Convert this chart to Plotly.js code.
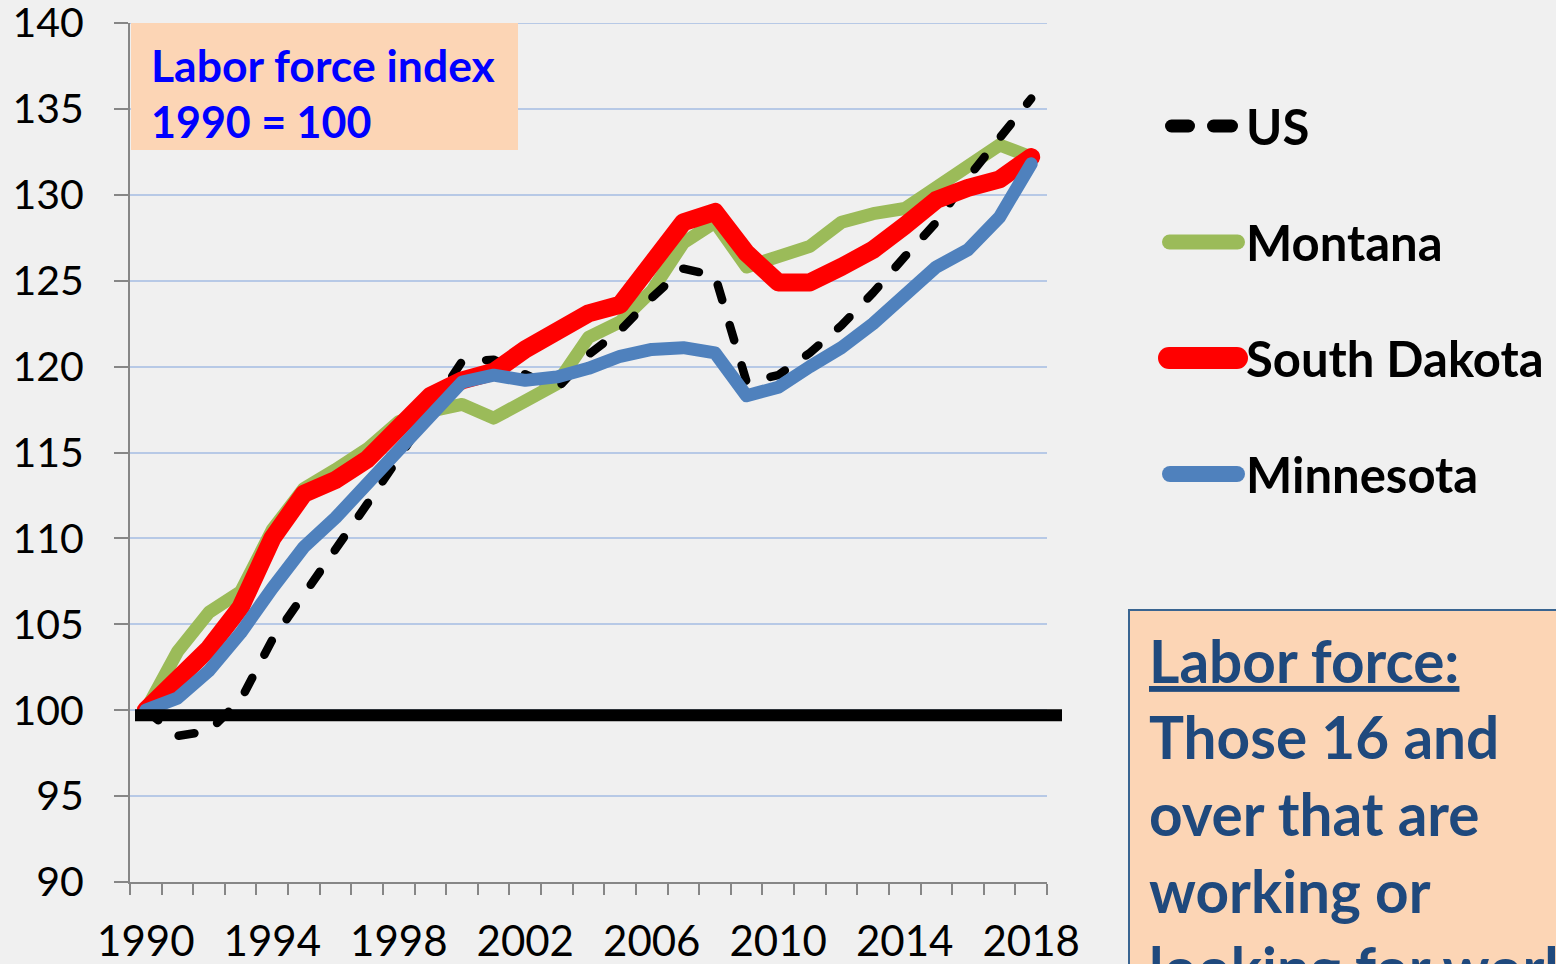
<!DOCTYPE html>
<html>
<head>
<meta charset="utf-8">
<script src="https://cdn.plot.ly/plotly-3.0.1.min.js"></script>
<style>
  html, body { margin: 0; padding: 0; background: #f0f0f0; }
  #chart { width: 1556px; height: 964px; }
  .scatterlayer path.js-line { stroke-linejoin: round; stroke-linecap: round; }
</style>
</head>
<body>
<div id="chart"></div>
<script>
// ---- data ----
const years = [1990,1991,1992,1993,1994,1995,1996,1997,1998,1999,
               2000,2001,2002,2003,2004,2005,2006,2007,2008,2009,
               2010,2011,2012,2013,2014,2015,2016,2017,2018];
const usIndex = [100, 98.5, 98.8, 100.6, 104.1, 106.7, 109.2, 112.0, 114.7, 117.5,
                 120.3, 120.4, 119.6, 118.7, 120.7, 122.1, 124.0, 125.7, 125.3, 119.1,
                 119.5, 120.8, 122.4, 124.3, 126.4, 128.4, 131.0, 133.4, 135.6];
const montanaIndex = [100, 103.4, 105.7, 106.9, 110.5, 112.9, 114.0, 115.2, 116.8, 117.4,
                      117.8, 117.0, 118.0, 119.0, 121.7, 122.6, 124.4, 127.2, 128.4, 125.8,
                      126.4, 127.0, 128.4, 128.9, 129.2, 130.5, 131.7, 132.9, 132.2];
const southDakotaIndex = [100, 101.7, 103.6, 106.0, 110.0, 112.6, 113.4, 114.6, 116.3, 118.3,
                          119.2, 119.7, 121.0, 122.0, 123.1, 123.6, 125.8, 128.4, 129.0, 126.6,
                          124.9, 124.9, 125.8, 126.8, 128.2, 129.7, 130.4, 130.9, 132.2];
const minnesotaIndex = [100, 100.7, 102.3, 104.5, 107.1, 109.5, 111.2, 113.2, 115.3, 117.1,
                        119.1, 119.5, 119.2, 119.4, 119.9, 120.6, 121.0, 121.1, 120.8, 118.3,
                        118.8, 120.0, 121.1, 122.5, 124.2, 125.8, 126.8, 128.7, 131.8];
const xTickYears = [1990,1994,1998,2002,2006,2010,2014,2018];
const yTicks = [90,95,100,105,110,115,120,125,130,135,140];
const seriesNames = ['US','Montana','South Dakota','Minnesota'];
const baseValue = 100;

// ---- styles ----
const FONT = 'Lato, "Open Sans", sans-serif';
const colors = {US:'#000000', Montana:'#9bbb59', 'South Dakota':'#ff0000', Minnesota:'#4f81bd'};
const widths = {US:8.5, Montana:13, 'South Dakota':18, Minnesota:13};
const legendWidths = {US:13, Montana:15, 'South Dakota':22, Minnesota:16};
const axisGray = '#868686';
const gridBlue = '#b7c9e6';
const peach = '#fcd5b5';

function tr(name, y, dash) {
  return {
    type:'scatter', mode:'lines', name:name, x:years, y:y,
    line:{color:colors[name], width:widths[name], dash:dash||'solid'},
    showlegend:false, hoverinfo:'x+y+name'
  };
}
const traces = [
  tr('Montana', montanaIndex),
  tr('US', usIndex, '16px,26px'),
  tr('South Dakota', southDakotaIndex),
  tr('Minnesota', minnesotaIndex)
];

// plot area in pixels: x 130..1047, y 23..882
const L = 130, R = 1047, T = 23, B = 882;
const px = v => (v - L) / (R - L);
const py = v => (B - v) / (B - T);

const shapes = [];
const annotations = [];
const roundCapShapes = [];

// top gridline at the range edge (Plotly drops the edge gridline)
shapes.push({type:'line', xref:'paper', yref:'y', x0:0, x1:1, y0:yTicks[yTicks.length-1], y1:yTicks[yTicks.length-1],
             line:{color:gridBlue, width:2}, layer:'below'});
// baseline bar at 100
shapes.push({type:'line', xref:'paper', yref:'y', x0:px(135), x1:px(1062), y0:baseValue-0.3, y1:baseValue-0.3,
             line:{color:'#000', width:12}, layer:'above'});
// top-left label box
shapes.push({type:'rect', xref:'paper', yref:'paper', x0:px(131), x1:px(518), y0:py(150), y1:py(23),
             fillcolor:peach, line:{width:0}, layer:'above'});
annotations.push({xref:'paper', yref:'paper', x:px(149), y:py(64), xanchor:'left', yanchor:'middle',
                  text:'<b>Labor force index</b>', showarrow:false, font:{family:FONT, size:44.5, color:'#0000ff'}});
annotations.push({xref:'paper', yref:'paper', x:px(149), y:py(121), xanchor:'left', yanchor:'middle',
                  text:'<b>1990 = 100</b>', showarrow:false, font:{family:FONT, size:43, color:'#0000ff'}});

// custom legend
const legendY = [126, 242, 358, 474];
seriesNames.forEach((n, i) => {
  const w = legendWidths[n];
  if (n === 'US') {
    [[1165, 1195], [1207, 1238]].forEach(seg => {
      roundCapShapes.push(shapes.length);
      shapes.push({type:'line', xref:'paper', yref:'paper', x0:px(seg[0]+w/2), x1:px(seg[1]-w/2),
                   y0:py(legendY[i]), y1:py(legendY[i]), line:{color:colors[n], width:w}});
    });
  } else {
    const x0 = n === 'South Dakota' ? 1158 : 1162;
    const x1 = n === 'South Dakota' ? 1248 : 1245;
    roundCapShapes.push(shapes.length);
    shapes.push({type:'line', xref:'paper', yref:'paper', x0:px(x0+w/2), x1:px(x1-w/2),
                 y0:py(legendY[i]), y1:py(legendY[i]), line:{color:colors[n], width:w}});
  }
  annotations.push({xref:'paper', yref:'paper', x:px(1244), y:py(legendY[i]), xanchor:'left', yanchor:'middle',
                    text:'<b>'+n+'</b>', showarrow:false, font:{family:FONT, size:49, color:'#000'}});
});

// right definition box
shapes.push({type:'rect', xref:'paper', yref:'paper', x0:px(1129), x1:px(1600), y0:py(1010), y1:py(610),
             fillcolor:peach, line:{color:'#3a6591', width:2}, layer:'above'});
const defLines = ['<u>Labor force:</u>', 'Those 16 and', 'over that are', 'working or', 'looking for work'];
const defY = [660, 736, 813, 890, 967];
defLines.forEach((t, i) => {
  annotations.push({xref:'paper', yref:'paper', x:px(1147), y:py(defY[i]), xanchor:'left', yanchor:'middle',
                    text:'<b>'+t+'</b>', showarrow:false, font:{family:FONT, size:58.5, color:'#1f497d'}});
});

const layout = {
  width:1556, height:964,
  margin:{l:L, r:1556-R, t:T, b:964-B, pad:0},
  paper_bgcolor:'#f0f0f0', plot_bgcolor:'#f0f0f0',
  showlegend:false,
  font:{family:FONT, size:41, color:'#000'},
  xaxis:{
    type:'linear', range:[1989.5, 2018.5], tickmode:'array', tickvals:xTickYears, ticktext:xTickYears.map(String),
    ticks:'', showgrid:false, zeroline:false, showline:true, linecolor:axisGray, linewidth:2,
    tickfont:{family:FONT, size:42, color:'#000'}, ticklabelstandoff:22, ticklabeloverflow:'allow',
    minor:{ticks:'outside', tickmode:'linear', tick0:1989.5, dtick:1, ticklen:11, tickwidth:2, tickcolor:axisGray, showgrid:false}
  },
  yaxis:{
    range:[90,140], tickmode:'array', tickvals:yTicks, ticktext:yTicks.map(String),
    ticks:'outside', ticklen:14, tickwidth:2, tickcolor:axisGray,
    showline:true, linecolor:axisGray, linewidth:2, zeroline:false,
    showgrid:true, gridcolor:gridBlue, gridwidth:2,
    tickfont:{family:FONT, size:41, color:'#000'}, ticklabelstandoff:22, ticklabeloverflow:'allow'
  },
  shapes:shapes, annotations:annotations
};

Plotly.newPlot('chart', traces, layout, {displayModeBar:false, staticPlot:true}).then(() => {
  document.querySelectorAll('.shapelayer path').forEach(p => {
    const idx = parseInt(p.getAttribute('data-index'), 10);
    if (roundCapShapes.indexOf(idx) !== -1) p.style.strokeLinecap = 'round';
  });
});
</script>
</body>
</html>
